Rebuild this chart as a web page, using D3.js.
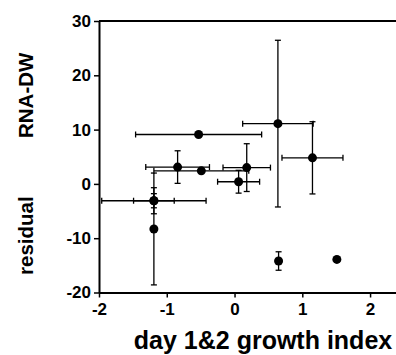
<!DOCTYPE html>
<html>
<head>
<meta charset="utf-8">
<script src="https://cdn.jsdelivr.net/npm/d3@7"></script>
<style>
  body { margin: 0; background: #fff; }
  svg { display: block; font-family: "Liberation Sans", Arial, sans-serif; }
</style>
</head>
<body>
<svg width="396" height="355"></svg>
<script>
// growth index (x), residual RNA-DW (y) and their error half-widths
const xVals = [-0.53, -0.84, -0.49, 0.18, 0.06, 0.64, 1.15, 0.65, 1.51, -1.19, -1.19, -1.19];
const yVals = [9.1, 3.1, 2.4, 3.0, 0.4, 11.1, 4.8, -14.2, -13.9, -3.1, -3.1, -8.3];
const xErr  = [0.93, 0.47, 0.70, 0.35, 0.31, 0.52, 0.45, 0, 0, 0.77, 0.30, 0];
const yErr  = [0, 3.0, 0, 4.4, 2.1, 15.35, 6.65, 1.7, 0, 2.4, 1.3, 10.3];
const xTicks = [-2, -1, 0, 1, 2];
const yTicks = [-20, -10, 0, 10, 20, 30];

const points = xVals.map(function(d, i) {
  return { x: d, y: yVals[i], ex: xErr[i], ey: yErr[i] };
});

const svg = d3.select('svg');

const x = d3.scaleLinear()
    .domain([-2, 2.39])
    .range([99, 396.5]);

const y = d3.scaleLinear()
    .domain([-20, 30])
    .range([292.5, 21]);

const cap = 3;

// top frame line
svg.append('line')
    .attr('x1', x(-2)).attr('x2', 396)
    .attr('y1', y(30)).attr('y2', y(30))
    .attr('stroke', '#000')
    .attr('stroke-width', 2);

const yAxis = svg.append('g')
    .attr('transform', 'translate(' + x(-2) + ',0)')
    .call(d3.axisLeft(y).tickValues(yTicks).tickSize(5).tickSizeOuter(0).tickPadding(3));

const xAxis = svg.append('g')
    .attr('transform', 'translate(0,' + y(-20) + ')')
    .call(d3.axisBottom(x).tickValues(xTicks).tickSize(5).tickSizeOuter(0).tickPadding(5));

[xAxis, yAxis].forEach(function(a) {
  a.select('.domain').attr('stroke-width', 2);
  a.selectAll('.tick line').attr('stroke-width', 1.5);
  a.selectAll('.tick text')
      .attr('font-size', 17)
      .attr('font-weight', 'bold')
      .attr('font-family', '"Liberation Sans", Arial, sans-serif')
      .attr('fill', '#000')
      .text(function(d) { return d < 0 ? '-' + Math.abs(d) : d; });
});

// error bars
const bars = svg.append('g')
    .attr('stroke', '#000')
    .attr('stroke-width', 1.3);

points.filter(function(d) { return d.ex > 0; }).forEach(function(d) {
  const cy = y(d.y);
  const x0 = x(d.x - d.ex);
  const x1 = x(d.x + d.ex);
  bars.append('line').attr('x1', x0).attr('x2', x1).attr('y1', cy).attr('y2', cy);
  bars.append('line').attr('x1', x0).attr('x2', x0).attr('y1', cy - cap).attr('y2', cy + cap);
  bars.append('line').attr('x1', x1).attr('x2', x1).attr('y1', cy - cap).attr('y2', cy + cap);
});

points.filter(function(d) { return d.ey > 0; }).forEach(function(d) {
  const cx = x(d.x);
  const y0 = y(d.y - d.ey);
  const y1 = y(d.y + d.ey);
  bars.append('line').attr('x1', cx).attr('x2', cx).attr('y1', y0).attr('y2', y1);
  bars.append('line').attr('x1', cx - cap).attr('x2', cx + cap).attr('y1', y0).attr('y2', y0);
  bars.append('line').attr('x1', cx - cap).attr('x2', cx + cap).attr('y1', y1).attr('y2', y1);
});

svg.append('g')
  .selectAll('circle')
  .data(points)
  .enter().append('circle')
    .attr('cx', function(d) { return x(d.x); })
    .attr('cy', function(d) { return y(d.y); })
    .attr('r', 4.5)
    .attr('fill', '#000');

// axis titles (y title is two words with a wide gap)
svg.append('text')
    .attr('transform', 'translate(33,275) rotate(-90)')
    .attr('font-size', 20.5)
    .attr('font-weight', 'bold')
    .attr('fill', '#000')
    .text('residual');

svg.append('text')
    .attr('transform', 'translate(33,138) rotate(-90)')
    .attr('font-size', 20.5)
    .attr('font-weight', 'bold')
    .attr('fill', '#000')
    .text('RNA-DW');

svg.append('text')
    .attr('x', 263)
    .attr('y', 349)
    .attr('text-anchor', 'middle')
    .attr('font-size', 25)
    .attr('font-weight', 'bold')
    .attr('fill', '#000')
    .text('day 1&2 growth index');
</script>
</body>
</html>
